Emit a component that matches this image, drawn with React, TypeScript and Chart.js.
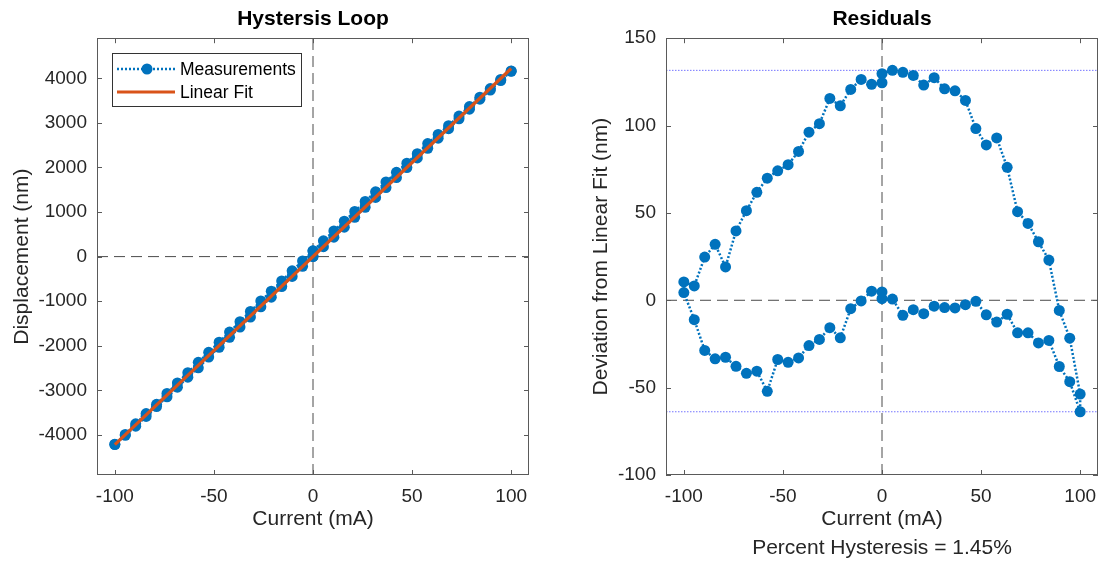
import React, { useEffect, useRef } from 'react';
import { Chart, registerables } from 'chart.js';

Chart.register(...registerables);

// ---------- data ----------
// current grid (mA) of one branch, 0 -> 100
const currentSteps = [0, 5.26, 10.53, 15.79, 21.05, 26.32, 31.58, 36.84, 42.11, 47.37, 52.63, 57.89, 63.16, 68.42, 73.68, 78.95, 84.21, 89.47, 94.74, 100];

// displacement (nm) for the four branches of the loop
const dispUpPos = [1, 223, 436, 661, 881, 1107, 1328, 1550, 1774, 1998, 2213, 2431, 2657, 2869, 3091, 3307, 3531, 3738, 3951, 4156];
const dispDownPos = [4166, 3976, 3770, 3577, 3365, 3154, 2938, 2741, 2536, 2310, 2097, 1891, 1675, 1454, 1238, 1012, 795, 575, 354, 130];
const dispDownNeg = [125, -99, -318, -546, -777, -995, -1232, -1459, -1692, -1921, -2147, -2373, -2604, -2836, -3070, -3313, -3522, -3751, -3990, -4210];
const dispUpNeg = [-4216, -4009, -3805, -3587, -3364, -3147, -2929, -2706, -2495, -2255, -2034, -1810, -1581, -1355, -1126, -910, -671, -445, -217, 5];

// residuals (nm) from the linear fit, same branches
const residUpPos = [0.9, 0.7, -8.6, -5.4, -7.7, -3.4, -4.2, -4.4, -2.5, -0.6, -8.3, -12.5, -8.0, -18.6, -18.6, -24.4, -23.0, -37.9, -46.6, -63.8];
const residDownPos = [-53.7, -21.7, -5.8, 23.0, 33.5, 44.0, 50.7, 76.1, 92.9, 88.9, 98.3, 114.4, 119.9, 121.0, 127.4, 123.2, 128.7, 130.5, 131.6, 129.7];
const residDownNeg = [124.5, 123.6, 126.4, 120.7, 111.3, 115.5, 101.1, 96.2, 85.2, 77.6, 74.1, 69.9, 61.8, 51.3, 39.7, 19.1, 32.0, 24.7, 8.2, 10.5];
const residUpNeg = [4.4, -11.1, -28.7, -33.5, -32.6, -37.8, -41.8, -40.6, -52.1, -33.9, -35.5, -33.0, -25.9, -22.4, -15.7, -21.5, -4.8, -0.4, 5.2, 4.8];

// linear fit end points
const fitCurrent = [-100, 100];
const fitDisplacement = [-4220, 4220];

// axes
const xRange = [-109, 109];
const xTicks = [-100, -50, 0, 50, 100];
const loopYRange = [-4900, 4900];
const loopYTicks = [-4000, -3000, -2000, -1000, 0, 1000, 2000, 3000, 4000];
const residYRange = [-100, 150];
const residYTicks = [-100, -50, 0, 50, 100, 150];

const hysteresisText = 'Percent Hysteresis = 1.45%';

// ---------- build loop sequence ----------
const loopCurrent = [
  ...currentSteps,
  ...[...currentSteps].reverse(),
  ...currentSteps.map((v) => -v),
  ...[...currentSteps].reverse().map((v) => -v),
];
const loopDisp = [...dispUpPos, ...dispDownPos, ...dispDownNeg, ...dispUpNeg];
const loopResid = [...residUpPos, ...residDownPos, ...residDownNeg, ...residUpNeg];
const residMax = Math.max(...loopResid);
const residMin = Math.min(...loopResid);

const FONT = '"Liberation Sans", Arial, Helvetica, sans-serif';
const TEXT = '#262626';
const BLUE = '#0072BD';
const ORANGE = '#D95319';
const TICK_SIZE = 19;
const LABEL_SIZE = 21;

const framePlugin = {
  id: 'frame',
  afterDatasetsDraw(chart: any) {
    const { ctx, chartArea: a, scales } = chart;
    ctx.save();
    ctx.strokeStyle = '#5a5a5a';
    ctx.lineWidth = 1;
    ctx.strokeRect(Math.round(a.left) + 0.5, Math.round(a.top) + 0.5, Math.round(a.right - a.left) - 1, Math.round(a.bottom - a.top) - 1);
    const L = 5;
    ctx.beginPath();
    scales.x.ticks.forEach((t: any) => {
      const px = Math.round(scales.x.getPixelForValue(t.value)) + 0.5;
      ctx.moveTo(px, a.bottom);
      ctx.lineTo(px, a.bottom - L);
      ctx.moveTo(px, a.top);
      ctx.lineTo(px, a.top + L);
    });
    scales.y.ticks.forEach((t: any) => {
      const py = Math.round(scales.y.getPixelForValue(t.value)) + 0.5;
      ctx.moveTo(a.left, py);
      ctx.lineTo(a.left + L, py);
      ctx.moveTo(a.right, py);
      ctx.lineTo(a.right - L, py);
    });
    ctx.stroke();
    ctx.restore();
  },
};

const boxLegendPlugin = {
  id: 'boxLegend',
  afterDraw(chart: any, _args: any, opts: any) {
    if (!opts || !opts.show) return;
    const { ctx, chartArea: a } = chart;
    const x0 = Math.round(a.left) + 15;
    const y0 = Math.round(a.top) + 15;
    const w = 189;
    const h = 53;
    ctx.save();
    ctx.fillStyle = '#ffffff';
    ctx.fillRect(x0, y0, w, h);
    ctx.strokeStyle = '#333333';
    ctx.lineWidth = 1;
    ctx.strokeRect(x0 + 0.5, y0 + 0.5, w, h);
    const items = chart.data.datasets.filter((d: any) => d.inLegend);
    items.sort((p: any, q: any) => p.legendIndex - q.legendIndex);
    items.forEach((d: any, i: number) => {
      const y = y0 + 16 + i * 23;
      ctx.save();
      ctx.strokeStyle = d.borderColor;
      ctx.lineWidth = d.borderWidth;
      ctx.setLineDash(d.borderDash || []);
      ctx.beginPath();
      ctx.moveTo(x0 + 5, y);
      ctx.lineTo(x0 + 63, y);
      ctx.stroke();
      ctx.restore();
      if (d.pointRadius > 0) {
        ctx.fillStyle = d.pointBackgroundColor;
        ctx.beginPath();
        ctx.arc(x0 + 35, y, d.pointRadius, 0, Math.PI * 2);
        ctx.fill();
      }
      ctx.fillStyle = '#000';
      ctx.font = `17.5px ${FONT}`;
      ctx.textBaseline = 'middle';
      ctx.textAlign = 'left';
      ctx.fillText(d.label, x0 + 68, y + 1);
    });
    ctx.restore();
  },
};

function axisBase(range: number[], ticks: number[]) {
  return {
    type: 'linear' as const,
    min: range[0],
    max: range[1],
    afterBuildTicks: (s: any) => {
      s.ticks = ticks.map((v) => ({ value: v }));
    },
    grid: { display: false, drawTicks: false },
    border: { display: false },
    ticks: {
      font: { family: FONT, size: TICK_SIZE },
      color: TEXT,
      padding: 10,
      maxRotation: 0,
      autoSkip: false,
      callback: (v: any) => String(v),
    },
  };
}

function refLine(points: { x: number; y: number }[], color: string, dash: number[], width = 1) {
  return {
    type: 'line' as const,
    data: points,
    borderColor: color,
    borderWidth: width,
    borderDash: dash,
    pointRadius: 0,
    fill: false,
    order: 10,
  };
}

function titleOpts(text: string) {
  return {
    display: true,
    text,
    color: '#000',
    fullSize: false,
    font: { family: FONT, size: LABEL_SIZE, weight: 'bold', lineHeight: 1.2 },
    padding: { top: 7, bottom: 6 },
  };
}

function xFit(h: number) {
  return (s: any) => {
    s.height = h;
    s.paddingLeft = 0;
    s.paddingRight = 0;
  };
}

function yFit(w: number) {
  return (s: any) => {
    s.width = w;
    s.paddingTop = 0;
    s.paddingBottom = 0;
  };
}

function makeLoopConfig(): any {
  const meas = loopCurrent.map((x, i) => ({ x, y: loopDisp[i] }));
  const fit = fitCurrent.map((x, i) => ({ x, y: fitDisplacement[i] }));
  return {
    type: 'line',
    data: {
      datasets: [
        {
          label: 'Linear Fit',
          data: fit,
          borderColor: ORANGE,
          borderWidth: 3.2,
          pointRadius: 0,
          order: 0,
          inLegend: true,
          legendIndex: 1,
        },
        {
          label: 'Measurements',
          data: meas,
          borderColor: BLUE,
          borderWidth: 2.5,
          borderDash: [2, 2],
          pointRadius: 5.5,
          pointBackgroundColor: BLUE,
          pointBorderWidth: 0,
          order: 1,
          inLegend: true,
          legendIndex: 0,
        },
        refLine([{ x: xRange[0], y: 0 }, { x: xRange[1], y: 0 }], '#4a4a4a', [11, 6]),
        refLine([{ x: 0, y: loopYRange[0] }, { x: 0, y: loopYRange[1] }], '#4a4a4a', [11, 6]),
      ],
    },
    options: {
      animation: false,
      responsive: false,
      events: [],
      layout: { autoPadding: false, padding: { left: 10, right: 31, top: 0, bottom: 30 } },
      plugins: {
        legend: { display: false },
        tooltip: { enabled: false },
        title: titleOpts('Hystersis Loop'),
        boxLegend: { show: true },
      },
      scales: {
        x: {
          ...axisBase(xRange, xTicks),
          afterFit: xFit(57),
          title: { display: true, text: 'Current (mA)', color: TEXT, font: { family: FONT, size: LABEL_SIZE, lineHeight: 1.2 }, padding: 0 },
        },
        y: {
          ...axisBase(loopYRange, loopYTicks),
          afterFit: yFit(87),
          title: { display: true, text: 'Displacement (nm)', color: TEXT, font: { family: FONT, size: LABEL_SIZE, lineHeight: 1.2 }, padding: 0 },
        },
      },
    },
    plugins: [framePlugin, boxLegendPlugin],
  };
}

function makeResidConfig(): any {
  const pts = loopCurrent.map((x, i) => ({ x, y: loopResid[i] }));
  return {
    type: 'line',
    data: {
      datasets: [
        {
          label: 'Residuals',
          data: pts,
          borderColor: BLUE,
          borderWidth: 2.5,
          borderDash: [2, 2],
          pointRadius: 5.5,
          pointBackgroundColor: BLUE,
          pointBorderWidth: 0,
          order: 0,
        },
        refLine([{ x: xRange[0], y: residMax }, { x: xRange[1], y: residMax }], 'rgba(70,70,255,0.75)', [1.5, 1.5]),
        refLine([{ x: xRange[0], y: residMin }, { x: xRange[1], y: residMin }], 'rgba(70,70,255,0.75)', [1.5, 1.5]),
        refLine([{ x: xRange[0], y: 0 }, { x: xRange[1], y: 0 }], '#4a4a4a', [11, 6]),
        refLine([{ x: 0, y: residYRange[0] }, { x: 0, y: residYRange[1] }], '#4a4a4a', [11, 6]),
      ],
    },
    options: {
      animation: false,
      responsive: false,
      events: [],
      layout: { autoPadding: false, padding: { left: 29, right: 1, top: 0, bottom: 0 } },
      plugins: {
        legend: { display: false },
        tooltip: { enabled: false },
        title: titleOpts('Residuals'),
      },
      scales: {
        x: {
          ...axisBase(xRange, xTicks),
          afterFit: xFit(87),
          title: {
            display: true,
            text: ['Current (mA)', hysteresisText],
            color: TEXT,
            font: { family: FONT, size: LABEL_SIZE, lineHeight: 1.35 },
            padding: 0,
          },
        },
        y: {
          ...axisBase(residYRange, residYTicks),
          afterFit: yFit(77),
          title: { display: true, text: 'Deviation from Linear Fit (nm)', color: TEXT, font: { family: FONT, size: LABEL_SIZE, lineHeight: 1.2 }, padding: 0 },
        },
      },
    },
    plugins: [framePlugin],
  };
}

function ChartCanvas({ make, left, width }: { make: () => any; left: number; width: number }) {
  const ref = useRef<HTMLCanvasElement | null>(null);
  useEffect(() => {
    if (!ref.current) return;
    const chart = new Chart(ref.current, make());
    return () => chart.destroy();
  }, [make]);
  return (
    <canvas
      ref={ref}
      width={width}
      height={562}
      style={{ position: 'absolute', left, top: 0, width, height: 562 }}
    />
  );
}

export default function App() {
  return (
    <div style={{ position: 'absolute', left: 0, top: 0, width: 1099, height: 562, background: '#fff' }}>
      <ChartCanvas make={makeLoopConfig} left={0} width={560} />
      <ChartCanvas make={makeResidConfig} left={560} width={539} />
    </div>
  );
}
